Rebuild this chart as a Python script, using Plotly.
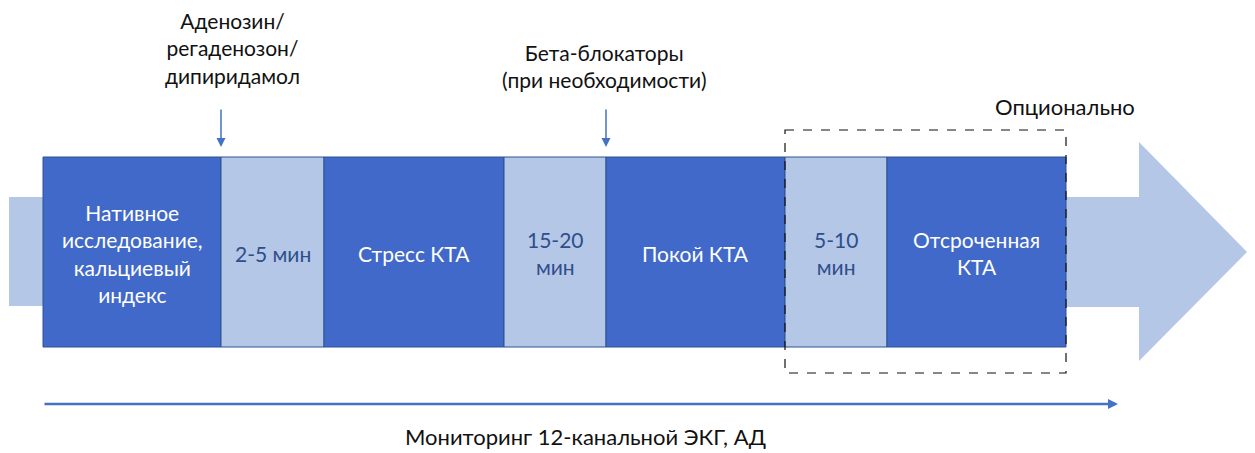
import plotly.graph_objects as go

# ---- data ----
segment_labels = [
    "Нативное<br>исследование,<br>кальциевый<br>индекс",
    "2-5 мин",
    "Стресс КТА",
    "15-20<br>мин",
    "Покой КТА",
    "5-10<br>мин",
    "Отсроченная<br>КТА",
]
segment_kinds = ["phase", "wait", "phase", "wait", "phase", "wait", "phase"]
segment_bounds = [43, 221, 324, 504, 606, 785, 887, 1066]

drug_labels = ["Аденозин/<br>регаденозон/<br>дипиридамол", "Бета-блокаторы<br>(при необходимости)"]
drug_x = [221, 606]
drug_label_x = [232, 604]

optional_label = "Опционально"
monitor_label = "Мониторинг 12-канальной ЭКГ, АД"

# ---- styles ----
W, H = 1255, 453
OFF = 8  # default page body margin
DARK = "#4169C9"
LIGHT = "#B4C7E7"
EDGE = "#2F528F"
WAIT_TXT = "#2F4E8C"
ARROW = "#4472C4"
FONT = "Lato, 'Open Sans', sans-serif"

bar_top, bar_bot = 157, 347

fig = go.Figure()
shapes = []
annotations = []

# left stub
shapes.append(dict(type="rect", xref="x", yref="y", x0=9, x1=43, y0=197, y1=306,
                   fillcolor=LIGHT, line=dict(width=0), layer="below"))
# big arrow at right
shapes.append(dict(type="path", xref="x", yref="y",
                   path="M 1066 197 L 1139 197 L 1139 142 L 1247 252 L 1139 361 L 1139 307 L 1066 307 Z",
                   fillcolor=LIGHT, line=dict(width=0), layer="below"))

for i, (lab, kind) in enumerate(zip(segment_labels, segment_kinds)):
    x0, x1 = segment_bounds[i], segment_bounds[i + 1]
    shapes.append(dict(type="rect", xref="x", yref="y", x0=x0, x1=x1, y0=bar_top, y1=bar_bot,
                       fillcolor=DARK if kind == "phase" else LIGHT,
                       line=dict(color=EDGE, width=1)))
    annotations.append(dict(x=(x0 + x1) / 2, y=(bar_top + bar_bot) / 2 + 1, xref="x", yref="y",
                            text=lab, showarrow=False, align="center",
                            font=dict(family=FONT, size=21,
                                      color="white" if kind == "phase" else WAIT_TXT)))

# dashed optional box
shapes.append(dict(type="rect", xref="x", yref="y", x0=785, x1=1066, y0=130, y1=373,
                   fillcolor="rgba(0,0,0,0)", line=dict(color="#111", width=1.2, dash="dash"),
                   layer="above"))
annotations.append(dict(x=1065, y=106, xref="x", yref="y", text=optional_label, showarrow=False,
                        font=dict(family=FONT, size=22, color="#111")))

# drug arrows + labels
for lab, xa, xl in zip(drug_labels, drug_x, drug_label_x):
    annotations.append(dict(x=xa, y=147, ax=xa, ay=108, xref="x", yref="y", axref="x", ayref="y",
                            text="", showarrow=True, arrowhead=2, arrowsize=1.2,
                            arrowwidth=1.5, arrowcolor=ARROW))
annotations.append(dict(x=drug_label_x[0], y=48, xref="x", yref="y", text=drug_labels[0],
                        showarrow=False, font=dict(family=FONT, size=21, color="#111")))
annotations.append(dict(x=drug_label_x[1], y=66, xref="x", yref="y", text=drug_labels[1],
                        showarrow=False, font=dict(family=FONT, size=21, color="#111")))

# monitoring arrow
annotations.append(dict(x=1118, y=404, ax=43, ay=404, xref="x", yref="y", axref="x", ayref="y",
                        text="", showarrow=True, arrowhead=2, arrowsize=0.8,
                        arrowwidth=2.5, arrowcolor=ARROW))
annotations.append(dict(x=585, y=436, xref="x", yref="y", text=monitor_label, showarrow=False,
                        font=dict(family=FONT, size=22, color="#111")))

fig.update_layout(
    width=W - 2 * OFF, height=H - OFF, margin=dict(l=0, r=0, t=0, b=0),
    paper_bgcolor="white", plot_bgcolor="white",
    xaxis=dict(range=[OFF, W - OFF], visible=False, fixedrange=True),
    yaxis=dict(range=[H, OFF], visible=False, fixedrange=True),
    shapes=shapes, annotations=annotations, showlegend=False,
)
fig.write_html("out.html")
